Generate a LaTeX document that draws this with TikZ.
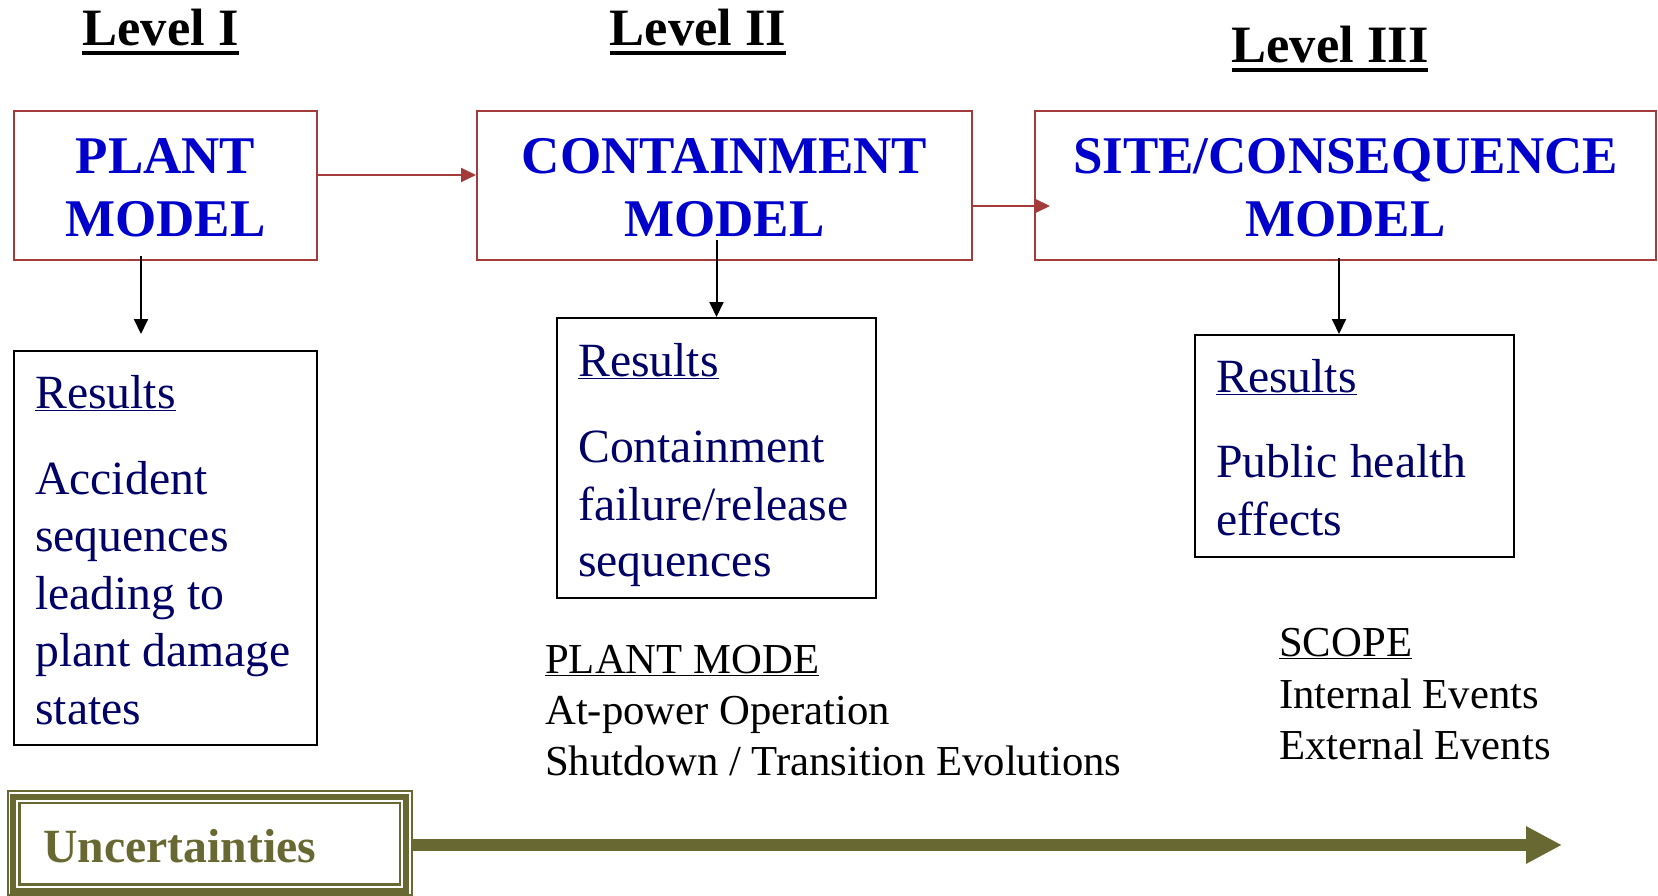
\documentclass[tikz,border=0pt]{standalone}
\usepackage{fontspec}
\setmainfont{Liberation Serif}
\usepackage{graphicx}
\usetikzlibrary{arrows.meta}
\definecolor{boxred}{HTML}{A33B3B}
\definecolor{titleblue}{HTML}{0000CC}
\definecolor{navytext}{HTML}{000066}
\definecolor{olivec}{HTML}{686832}
\newcommand{\thickul}[1]{\leavevmode\setbox0\hbox{#1}\rlap{\rule[-9.5pt]{\wd0}{4.5pt}}\box0}
\tikzset{
  redbox/.style={draw=boxred, line width=2pt, inner sep=0pt},
  resbox/.style={draw=black, line width=2pt, inner sep=0pt},
  titletext/.style={text=titleblue, font=\fontsize{53}{63}\selectfont\bfseries, align=center, inner sep=0pt},
  lvl/.style={font=\fontsize{52.5}{60}\selectfont\bfseries, anchor=base, inner sep=0pt},
  restext/.style={text=navytext, font=\fontsize{47.7}{57}\selectfont, anchor=base west, inner sep=0pt},
  modetext/.style={text=black, font=\fontsize{42.7}{50}\selectfont, anchor=base west, inner sep=0pt},
  redarrow/.style={draw=boxred, line width=2pt, -{Triangle[length=15pt,width=14pt]}},
  blkarrow/.style={draw=black, line width=2pt, -{Triangle[length=15pt,width=14pt]}},
  bigarrow/.style={draw=olivec, line width=12pt, -{Triangle[length=36pt,width=35pt]}},
}
\begin{document}
\begin{tikzpicture}[x=1pt,y=-1pt]
\useasboundingbox (0,0) rectangle (1658,896);

% level headings
\node[lvl] (lv1) at (160.5,46) {\thickul{Level I}};
\node[lvl] (lv2) at (698,46) {\thickul{Level II}};
\node[lvl] (lv3) at (1330,63) {\thickul{Level III}};

% model boxes
\node[redbox, minimum width=303pt, minimum height=149pt] (plant) at (165.5,185.5) {};
\node[redbox, minimum width=495pt, minimum height=149pt] (cont) at (724.5,185.5) {};
\node[redbox, minimum width=621pt, minimum height=149pt] (site) at (1345.5,185.5) {};
\node[titletext] (plantT) at (165.5,188) {PLANT\\MODEL};
\node[titletext] (contT) at (724.5,188) {CONTAINMENT\\MODEL};
\node[titletext] (siteT) at (1345.5,188) {SITE/CONSEQUENCE\\MODEL};

\draw[redarrow] ([yshift=10.5pt]plant.east) -- ([yshift=10.5pt]cont.west);
\draw[redarrow] ([yshift=-20.5pt]cont.east) -- ([xshift=16pt,yshift=-20.5pt]site.west);

% results boxes
\node[resbox, minimum width=303pt, minimum height=394pt] (pres) at (165.5,548) {};
\node[resbox, minimum width=319pt, minimum height=280pt] (cres) at (716.5,458) {};
\node[resbox, minimum width=319pt, minimum height=222pt] (sres) at (1354.5,446) {};

\coordinate (pd) at (141,334);
\coordinate (sd) at (1339,334);
\draw[blkarrow] ([yshift=5pt]plant.south -| pd) -- (pd);
\draw[blkarrow] ([yshift=21pt]cont.south -| cres.north) -- (cres.north);
\draw[blkarrow] ([yshift=3pt]site.south -| sd) -- (sres.north -| sd);

% results texts
\node[restext] (pr0) at (35,408) {\underline{Results}};
\foreach \t/\y [count=\i] in {Accident/494, sequences/551, leading to/609, plant damage/666, states/724}
  \node[restext] (pr\i) at (35,\y) {\t};

\node[restext] (cr0) at (578,376) {\underline{Results}};
\node[restext] (cr1) at (578,462) {Containment};
\node[restext] (cr2) at (578,520) {failure/release};
\node[restext] (cr3) at (578,576) {sequences};

\node[restext] (sr0) at (1216,392) {\underline{Results}};
\node[restext] (sr1) at (1216,477) {Public health};
\node[restext] (sr2) at (1216,535) {effects};

% plant mode / scope
\node[modetext] (pm0) at (545,673) {\underline{PLANT MODE}};
\node[modetext] (pm1) at (545,724) {At-power Operation};
\node[modetext] (pm2) at (545,775) {Shutdown / Transition Evolutions};

\node[modetext] (sc0) at (1279,656.5) {\underline{SCOPE}};
\node[modetext] (sc1) at (1279,708.5) {Internal Events};
\node[modetext] (sc2) at (1279,759.5) {External Events};

% uncertainties
\node[draw=olivec, line width=2.5pt, inner sep=0pt, minimum width=404pt, minimum height=104pt] (unc) at (210,843) {};
\draw[olivec, line width=6pt] ([shift={(6.5,7)}]unc.north west) rectangle ([shift={(-7,-5)}]unc.south east);
\draw[olivec, line width=2.5pt] ([shift={(12.5,13)}]unc.north west) rectangle ([shift={(-13.5,-12)}]unc.south east);
\node[text=olivec, font=\fontsize{47.7}{56}\selectfont\bfseries, anchor=base west, inner sep=0pt] (unctext) at (43,862) {Uncertainties};
\coordinate (uend) at (1562,845);
\draw[bigarrow] (unc.east |- uend) -- (uend);
\end{tikzpicture}
\end{document}
